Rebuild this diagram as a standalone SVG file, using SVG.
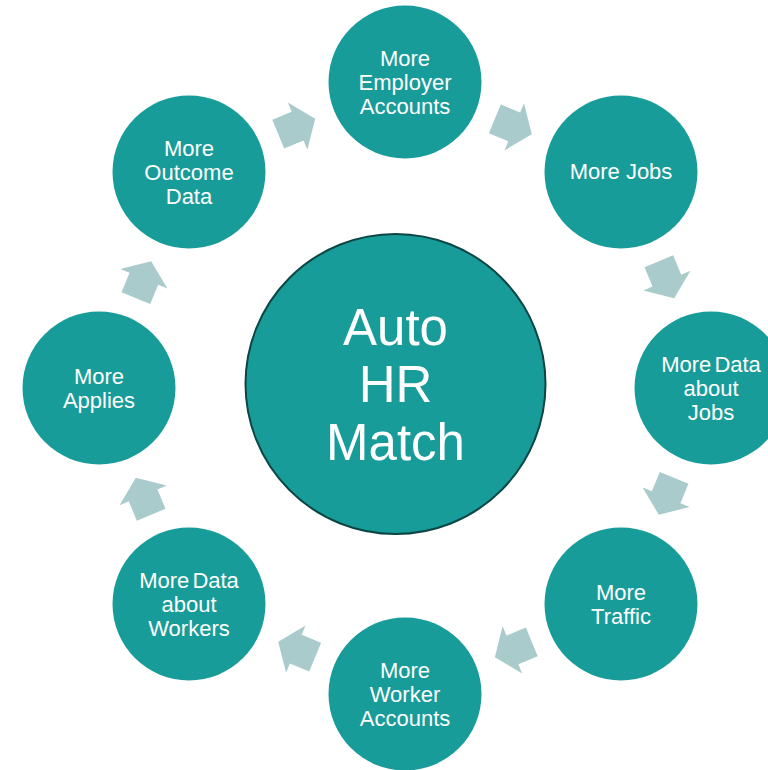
<svg xmlns="http://www.w3.org/2000/svg" width="768" height="770" viewBox="0 0 768 770">
<style>
.node{fill:#189c99}
.lbl{font-family:"Liberation Sans",Arial,sans-serif;font-size:22px;fill:#ffffff;text-anchor:middle}
.big{font-family:"Liberation Sans",Arial,sans-serif;font-size:51px;fill:#ffffff;text-anchor:middle}
.arr{fill:#a9cbcb}
</style>
<defs>
<path id="arrow" d="M-20,-15.5 L1,-15.5 L1,-25.5 L20,0 L1,25.5 L1,15.5 L-20,15.5 Z"/>
</defs>
<rect width="768" height="770" fill="#ffffff"/>
<g id="connectors" class="arr">
<use href="#arrow" transform="translate(513.3,126.5) rotate(22.5)"/>
<use href="#arrow" transform="translate(666.5,279.7) rotate(67.5)"/>
<use href="#arrow" transform="translate(666.5,496.3) rotate(112.5)"/>
<use href="#arrow" transform="translate(513.3,649.5) rotate(157.5)"/>
<use href="#arrow" transform="translate(296.7,649.5) rotate(202.5)"/>
<use href="#arrow" transform="translate(143.5,496.3) rotate(247.5)"/>
<use href="#arrow" transform="translate(143.5,279.7) rotate(292.5)"/>
<use href="#arrow" transform="translate(296.7,126.5) rotate(337.5)"/>
</g>
<g id="center">
<circle cx="395.5" cy="384" r="150" class="node" stroke="#0b4644" stroke-width="2"/>
<text class="big" x="395.5" y="345">Auto</text>
<text class="big" x="395.5" y="402">HR</text>
<text class="big" x="395.5" y="460">Match</text>
</g>
<g id="n1">
<circle cx="405" cy="82" r="76.5" class="node"/>
<text class="lbl" x="405" y="66">More</text>
<text class="lbl" x="405" y="90">Employer</text>
<text class="lbl" x="405" y="114">Accounts</text>
</g>
<g id="n2">
<circle cx="621" cy="172" r="76.5" class="node"/>
<text class="lbl" x="621" y="179">More Jobs</text>
</g>
<g id="n3">
<circle cx="711" cy="388" r="76.5" class="node"/>
<text class="lbl" x="711" y="372" word-spacing="-3">More Data</text>
<text class="lbl" x="711" y="396">about</text>
<text class="lbl" x="711" y="420">Jobs</text>
</g>
<g id="n4">
<circle cx="621" cy="604" r="76.5" class="node"/>
<text class="lbl" x="621" y="600">More</text>
<text class="lbl" x="621" y="624">Traffic</text>
</g>
<g id="n5">
<circle cx="405" cy="694" r="76.5" class="node"/>
<text class="lbl" x="405" y="678">More</text>
<text class="lbl" x="405" y="702">Worker</text>
<text class="lbl" x="405" y="726">Accounts</text>
</g>
<g id="n6">
<circle cx="189" cy="604" r="76.5" class="node"/>
<text class="lbl" x="189" y="588" word-spacing="-3">More Data</text>
<text class="lbl" x="189" y="612">about</text>
<text class="lbl" x="189" y="636">Workers</text>
</g>
<g id="n7">
<circle cx="99" cy="388" r="76.5" class="node"/>
<text class="lbl" x="99" y="384">More</text>
<text class="lbl" x="99" y="408">Applies</text>
</g>
<g id="n8">
<circle cx="189" cy="172" r="76.5" class="node"/>
<text class="lbl" x="189" y="156">More</text>
<text class="lbl" x="189" y="180">Outcome</text>
<text class="lbl" x="189" y="204">Data</text>
</g>
</svg>
